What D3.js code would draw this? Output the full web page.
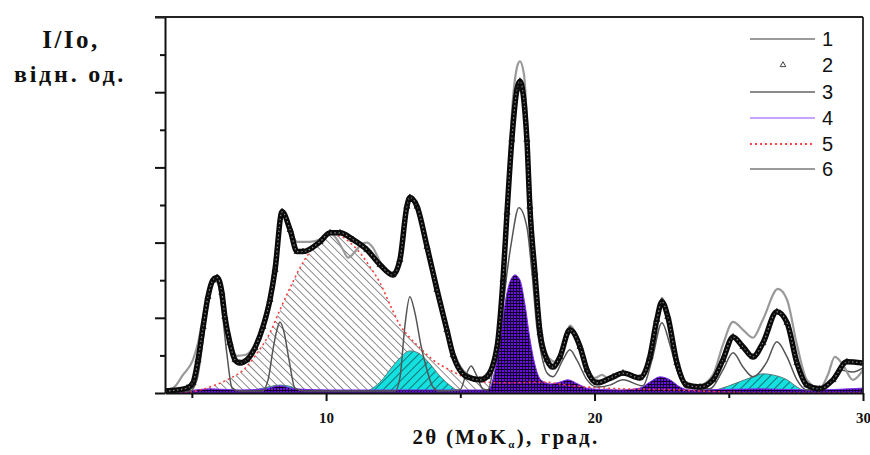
<!DOCTYPE html>
<html><head><meta charset="utf-8">
<script src="https://cdn.jsdelivr.net/npm/d3@7"></script>
<style>body{margin:0;background:#fff}</style>
</head><body><svg id="c" width="870" height="455"></svg>
<script>
// ---- DATA (2θ in degrees, intensity in % of axis height) ----
const xMajorTicks = [10, 20, 30];
const xMinorTicks = [5, 15, 25];
const yMajorTicks = [0, 20, 40, 60, 80, 100];
const yMinorTicks = [10, 30, 50, 70, 90];
const legendLabels = ["1", "2", "3", "4", "5", "6"];

// 1: experimental (gray line)
const series1 = [[4.00,0.8],[4.30,1.3],[4.67,4.8],[5.04,8.8],[5.23,13.3],[5.42,20.3],[5.68,28.3],[5.86,30.4],[6.05,27.5],[6.23,21.6],
[6.42,14.1],[6.68,9.9],[6.98,10.1],[7.35,12.8],[7.65,18.1],[7.91,25.6],[8.13,38.1],[8.36,48.8],[8.66,43.9],[8.92,40.2],
[9.40,40.2],[9.77,40.8],[10.15,42.6],[10.41,40.8],[10.63,38.1],[10.82,36.0],[11.08,37.6],[11.34,39.7],[11.52,40.0],[11.75,38.6],
[12.01,34.9],[12.27,32.2],[12.49,31.7],[12.75,36.0],[13.01,50.1],[13.12,52.5],[13.39,50.1],[13.76,39.4],[14.13,28.0],[14.50,17.3],
[14.80,10.1],[15.25,5.1],[15.73,4.0],[16.03,5.6],[16.37,14.1],[16.59,32.8],[16.77,55.4],[16.96,78.1],[17.11,86.6],[17.22,88.2],
[17.37,84.8],[17.52,67.4],[17.67,46.1],[17.85,27.5],[18.04,15.5],[18.30,9.3],[18.53,8.3],[18.79,10.9],[19.08,17.9],[19.46,12.8],
[19.75,6.7],[20.01,4.0],[20.28,4.8],[20.57,3.5],[21.06,5.1],[21.69,4.5],[22.06,10.1],[22.32,20.0],[22.51,25.3],[22.73,20.8],
[23.07,8.3],[23.44,2.7],[23.93,2.1],[24.41,4.8],[24.78,12.8],[25.16,18.9],[25.53,16.8],[25.90,14.7],[26.27,19.5],[26.83,27.7],
[27.17,24.8],[27.54,12.8],[27.91,3.5],[28.39,1.3],[28.69,4.8],[28.95,9.6],[29.25,7.5],[29.62,3.5],[30.00,6.1]];

// 2: fitted total (triangles)
const series2 = [[4.00,0.5],[4.82,1.3],[5.04,2.7],[5.23,8.8],[5.42,17.6],[5.60,25.6],[5.79,30.1],[5.94,30.7],[6.12,26.7],[6.23,20.3],
[6.42,13.3],[6.61,8.8],[6.79,8.0],[7.05,8.8],[7.35,12.0],[7.65,17.6],[7.91,24.8],[8.10,32.8],[8.36,48.2],[8.66,43.4],
[8.92,37.6],[9.14,37.6],[9.77,40.2],[10.15,42.6],[10.52,42.6],[11.00,40.8],[11.52,38.1],[12.01,34.1],[12.49,31.4],[12.75,35.4],
[13.01,49.6],[13.12,52.0],[13.39,49.6],[13.76,38.9],[14.13,27.5],[14.50,16.8],[14.73,10.1],[15.25,4.3],[15.73,3.5],[15.99,4.3],
[16.37,12.3],[16.59,30.1],[16.74,48.0],[16.92,67.4],[17.11,80.8],[17.22,82.9],[17.48,67.4],[17.59,49.6],[17.78,32.0],[17.97,16.0],
[18.23,8.8],[18.45,6.9],[18.71,9.6],[19.08,16.8],[19.46,12.3],[19.72,6.1],[20.09,2.7],[20.69,4.3],[21.06,5.3],[21.69,4.0],
[22.06,9.6],[22.32,19.5],[22.51,24.3],[22.73,20.3],[23.07,8.0],[23.44,2.1],[23.93,1.6],[24.41,3.5],[24.78,8.8],[25.16,14.9],
[25.53,12.3],[25.90,9.6],[26.27,13.3],[26.79,21.6],[27.17,18.7],[27.54,8.0],[27.91,2.1],[28.39,1.1],[28.88,3.5],[29.40,8.3],[30.00,8.0]];

// 3: crystalline peaks (thin dark gray line)
const series3 = [[4.00,0.3],[4.93,0.5],[5.19,3.5],[5.42,14.1],[5.60,24.8],[5.79,29.6],[5.94,29.6],[6.12,22.1],[6.31,10.1],[6.50,1.3],
[6.79,0.5],[7.61,0.5],[7.84,3.5],[8.02,11.5],[8.17,16.8],[8.28,18.9],[8.43,16.3],[8.62,8.8],[8.84,1.3],[9.21,0.5],
[12.57,0.5],[12.75,4.0],[12.94,18.1],[13.12,25.6],[13.31,21.3],[13.53,12.8],[13.76,6.1],[13.98,1.6],[14.24,0.5],[14.99,0.8],
[15.21,4.8],[15.40,7.2],[15.58,5.1],[15.84,1.1],[16.03,0.8],[16.29,9.6],[16.55,20.3],[16.74,32.0],[16.92,40.8],[17.18,49.3],
[17.48,44.2],[17.67,32.0],[17.85,17.6],[18.04,9.6],[18.23,5.3],[18.45,4.3],[18.82,8.8],[19.08,11.5],[19.34,8.8],[19.72,3.5],
[20.09,1.6],[20.57,2.1],[21.06,3.5],[21.80,1.9],[22.14,8.8],[22.51,18.7],[22.81,12.8],[23.07,6.1],[23.44,1.3],[24.30,1.1],
[24.78,6.1],[25.16,10.7],[25.53,6.9],[25.90,4.3],[26.42,8.3],[26.79,13.6],[27.17,9.6],[27.54,3.5],[27.91,0.8],[28.58,1.1],
[29.14,6.1],[29.62,5.6],[30.00,6.7]];

// 4: purple component
const series4 = [[4.00,0],[4.56,0.3],[5.12,0.8],[5.68,1.1],[6.79,0.8],[7.72,1.1],[8.28,1.9],[8.84,1.1],[10.15,0.8],[12.75,0.8],
[13.50,0.8],[15.92,0.8],[16.10,1.3],[16.29,6.1],[16.48,13.3],[16.66,23.5],[16.85,29.6],[17.04,31.4],[17.22,30.1],[17.41,23.5],
[17.60,14.1],[17.78,7.5],[18.00,3.5],[18.34,2.4],[18.71,2.9],[19.01,3.5],[19.38,2.4],[19.83,1.1],[20.95,0.8],[21.69,1.3],
[22.06,2.9],[22.44,4.3],[22.81,3.5],[23.18,1.6],[23.55,0.8],[26.16,1.1],[28.02,0.8],[30.00,1.3]];

// 5: amorphous halo (red dotted, hatched)
const series5 = [[4.00,0],[4.74,0],[5.12,0.5],[5.68,1.6],[6.31,3.5],[6.91,6.1],[7.46,10.9],[7.91,16.0],[8.28,22.1],[8.66,28.0],
[9.03,33.3],[9.40,37.6],[9.77,40.8],[10.15,42.1],[10.52,41.8],[10.89,40.0],[11.26,37.3],[11.63,33.6],[12.01,29.3],[12.38,23.5],
[12.75,18.1],[13.12,14.7],[13.50,12.0],[13.98,8.8],[14.61,6.1],[15.25,4.0],[15.92,2.9],[16.85,2.7],[18.08,2.9],[19.19,1.9],
[21.06,1.1],[23.18,0.8],[24.67,0.3],[26.16,0],[30.00,0]];

// 6: cyan component
const series6 = [[4.00,0],[6.91,0],[7.35,0.8],[7.84,1.6],[8.28,2.1],[8.73,1.6],[9.14,0],[11.26,0],[11.63,0.8],[12.01,2.9],
[12.49,7.2],[12.75,9.3],[13.12,11.2],[13.42,10.7],[13.80,8.3],[14.24,4.5],[14.69,1.6],[15.10,0],[23.93,0],[24.30,0.5],
[24.67,1.1],[25.30,2.7],[25.90,4.3],[26.27,5.1],[26.64,4.8],[27.17,3.5],[27.54,1.6],[27.91,0.3],[28.21,0],[30.00,0]];

// ---- DRAWING ----
const L = 165, R = 863, T = 17, B = 393;
const x = d3.scaleLinear().domain([4, 30]).range([L, R]);
const y = d3.scaleLinear().domain([0, 100]).range([B, T]);
const svg = d3.select("#c");
const defs = svg.append("defs");

defs.append("clipPath").attr("id", "clip").append("rect")
  .attr("x", L).attr("y", T).attr("width", R - L).attr("height", B - T);

function hatch(id, bg, col, size, angle, sw) {
  const p = defs.append("pattern").attr("id", id).attr("patternUnits", "userSpaceOnUse")
    .attr("width", size).attr("height", size).attr("patternTransform", `rotate(${angle})`);
  p.append("rect").attr("width", size).attr("height", size).attr("fill", bg);
  p.append("line").attr("x1", 0).attr("y1", 0).attr("x2", 0).attr("y2", size)
    .attr("stroke", col).attr("stroke-width", sw);
}
hatch("halo", "#ffffff", "#404040", 5.5, -45, 1.2);
hatch("cyan", "#14e0e0", "#173838", 6, 45, 1.3);
const grid = defs.append("pattern").attr("id", "purp").attr("patternUnits", "userSpaceOnUse")
  .attr("width", 3).attr("height", 3);
grid.append("rect").attr("width", 3).attr("height", 3).attr("fill", "#6a0ee0");
grid.append("path").attr("d", "M0,0.5H3M0.5,0V3").attr("stroke", "#10002a").attr("stroke-width", 1);

const plot = svg.append("g").attr("clip-path", "url(#clip)");
const area = d3.area().x(d => x(d[0])).y0(y(0)).y1(d => y(d[1])).curve(d3.curveMonotoneX);
const line = d3.line().x(d => x(d[0])).y(d => y(d[1])).curve(d3.curveMonotoneX);

plot.append("path").datum(series5).attr("d", area).attr("fill", "url(#halo)");
plot.append("path").datum(series6).attr("d", area).attr("fill", "url(#cyan)")
  .attr("stroke", "#5a7a7a").attr("stroke-width", 1);
plot.append("path").datum(series4).attr("d", area).attr("fill", "url(#purp)")
  .attr("stroke", "#7a2ce8").attr("stroke-width", 1);
plot.append("path").datum(series5).attr("d", line).attr("fill", "none")
  .attr("stroke", "#ff3b3b").attr("stroke-width", 1.6).attr("stroke-dasharray", "2,3");
plot.append("path").datum(series3).attr("d", line).attr("fill", "none")
  .attr("stroke", "#555").attr("stroke-width", 1.5);
plot.append("path").datum(series1).attr("d", line).attr("fill", "none")
  .attr("stroke", "#9a9a9a").attr("stroke-width", 2.2);
// series 2: dense triangle markers -> thick band
plot.append("path").datum(series2).attr("d", line).attr("fill", "none")
  .attr("stroke", "#0a0a0a").attr("stroke-width", 5.5).attr("stroke-linejoin", "round");
plot.append("path").datum(series2).attr("d", line).attr("fill", "none")
  .attr("stroke", "#8a8a8a").attr("stroke-width", 1.2).attr("stroke-dasharray", "1.5,2.5");
plot.selectAll(".tri").data(series2).enter().append("path")
  .attr("transform", d => `translate(${x(d[0])},${y(d[1])})`)
  .attr("d", d3.symbol().type(d3.symbolTriangle).size(16)())
  .attr("fill", "none").attr("stroke", "#111").attr("stroke-width", 0.8);

// axes
const ax = svg.append("g").attr("class", "axes");
ax.append("g").attr("transform", `translate(${L},0)`)
  .call(d3.axisLeft(y).tickValues(yMajorTicks).tickSize(10).tickSizeOuter(0).tickFormat(""));
const yMin = ax.append("g").attr("transform", `translate(${L},0)`)
  .call(d3.axisLeft(y).tickValues(yMinorTicks).tickSize(5).tickSizeOuter(0).tickFormat(""));
yMin.select(".domain").remove();
ax.append("g").attr("transform", `translate(0,${B})`)
  .call(d3.axisBottom(x).tickValues(xMajorTicks).tickSize(8).tickSizeOuter(0).tickPadding(11).tickFormat(d3.format("d")));
const xMin = ax.append("g").attr("transform", `translate(0,${B})`)
  .call(d3.axisBottom(x).tickValues(xMinorTicks).tickSize(5).tickSizeOuter(0).tickFormat(""));
xMin.select(".domain").remove();
ax.selectAll(".domain, .tick line").attr("stroke", "#111").attr("stroke-width", 2);
ax.selectAll(".tick text").attr("font-family", "Liberation Serif, serif").attr("font-weight", "bold")
  .attr("font-size", 15).attr("fill", "#111");
ax.append("line").attr("x1", L - 10).attr("x2", R).attr("y1", T).attr("y2", T).attr("stroke", "#222").attr("stroke-width", 1.8);
ax.append("line").attr("x1", R).attr("x2", R).attr("y1", T).attr("y2", B).attr("stroke", "#222").attr("stroke-width", 1.8);

// axis titles
const serif = "Liberation Serif, 'Times New Roman', serif";
svg.append("text").attr("x", 71).attr("y", 48).attr("text-anchor", "middle")
  .attr("font-family", serif).attr("font-weight", "bold").attr("font-size", 25)
  .attr("letter-spacing", 2.5).attr("fill", "#111").text("I/Io,");
svg.append("text").attr("x", 70).attr("y", 82).attr("text-anchor", "middle")
  .attr("font-family", serif).attr("font-weight", "bold").attr("font-size", 24)
  .attr("letter-spacing", 2.8).attr("fill", "#111").text("відн. од.");
const xt = svg.append("text").attr("x", 506).attr("y", 444).attr("text-anchor", "middle")
  .attr("font-family", serif).attr("font-weight", "bold").attr("font-size", 21)
  .attr("letter-spacing", 2.2).attr("fill", "#111");
xt.append("tspan").text("2θ (MoK");
xt.append("tspan").attr("font-size", 11).attr("dy", 4).text("α");
xt.append("tspan").attr("dy", -4).text("), град.");

// legend
const legY = [39, 65, 92, 118, 144, 169];
const lg = svg.append("g");
const legStyle = [
  {stroke: "#9a9a9a", w: 2.2},
  null,
  {stroke: "#8a8a8a", w: 2.2},
  {stroke: "#c9a4ff", w: 2.2},
  {stroke: "#ff4444", w: 1.8, dash: "2,3"},
  {stroke: "#9a9a9a", w: 2.2}
];
legendLabels.forEach((lab, i) => {
  const s = legStyle[i];
  if (s) {
    lg.append("line").attr("x1", 750).attr("x2", 815).attr("y1", legY[i]).attr("y2", legY[i])
      .attr("stroke", s.stroke).attr("stroke-width", s.w).attr("stroke-dasharray", s.dash || null);
  } else {
    lg.append("path").attr("transform", `translate(783,${legY[i]})`)
      .attr("d", d3.symbol().type(d3.symbolTriangle).size(14)())
      .attr("fill", "none").attr("stroke", "#444").attr("stroke-width", 1);
  }
  lg.append("text").attr("x", 822).attr("y", legY[i] + 7).attr("font-family", "Liberation Sans, Arial, sans-serif")
    .attr("font-size", 20).attr("fill", "#111").text(lab);
});
</script>
</body></html>
